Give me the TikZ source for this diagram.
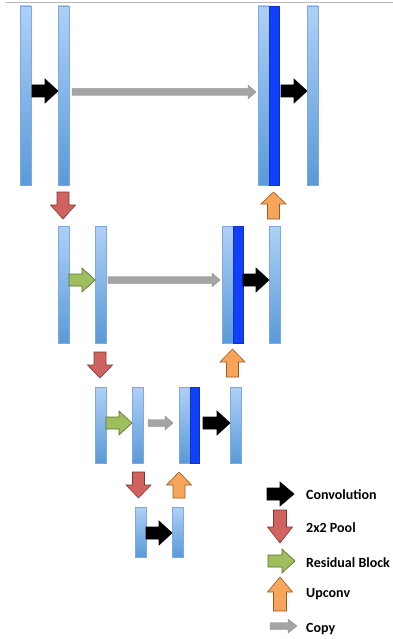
\documentclass[tikz,border=0pt]{standalone}
\usepackage{fontspec}
\setmainfont{Carlito}
\definecolor{bartop}{HTML}{AED0F7}
\definecolor{barbot}{HTML}{5A9AD8}
\definecolor{baredge}{HTML}{7AAADF}
\definecolor{darkbar}{HTML}{1040FA}
\definecolor{poolred}{HTML}{D0625F}
\definecolor{pooledge}{HTML}{7E3634}
\definecolor{resgreen}{HTML}{9FBF5E}
\definecolor{resedge}{HTML}{566E2C}
\definecolor{uporange}{HTML}{F8A55C}
\definecolor{upedge}{HTML}{9A5A24}
\definecolor{copygray}{HTML}{A4A4A4}
\newcommand{\rarr}[7]{\path[#1] (#2,#4-#5) -- (#3-#7,#4-#5) -- (#3-#7,#4-#6) -- (#3,#4) -- (#3-#7,#4+#6) -- (#3-#7,#4+#5) -- (#2,#4+#5) -- cycle;}
\newcommand{\varr}[7]{\path[#1] (#2-#6,#3) -- (#2-#6,#4) -- (#2-#7,#4) -- (#2,#5) -- (#2+#7,#4) -- (#2+#6,#4) -- (#2+#6,#3) -- cycle;}
\tikzset{
  bar/.style={rectangle, inner sep=0pt, outer sep=0pt, anchor=north west, top color=bartop, bottom color=barbot, draw=baredge, line width=0.5pt},
  dbar/.style={rectangle, inner sep=0pt, outer sep=0pt, anchor=north west, fill=darkbar, draw=darkbar!80!black, line width=0.5pt},
  conv/.style={fill=black, draw=black, line width=0.6pt, line join=miter},
  pool/.style={fill=poolred, draw=pooledge, line width=0.6pt},
  res/.style={fill=resgreen, draw=resedge, line width=0.6pt},
  upc/.style={fill=uporange, draw=upedge, line width=0.6pt},
  copyarr/.style={fill=copygray, draw=copygray!85!black, line width=0.4pt},
  legtext/.style={anchor=west, inner sep=0pt, font=\fontsize{14}{16}\selectfont\bfseries}
}
\begin{document}
\begin{tikzpicture}[x=1pt, y=-1pt]
\useasboundingbox (0,0) rectangle (393,639);
\draw[gray!55, line width=0.8pt] (5,2) -- (393,2);
% level 1
\node[bar, minimum width=11pt, minimum height=179pt] (a1) at (20,6) {};
\node[bar, minimum width=11pt, minimum height=179pt] (b1) at (58,6) {};
\node[bar, minimum width=11pt, minimum height=179pt] (c1) at (258,6) {};
\node[dbar, minimum width=10pt, minimum height=179pt] (d1) at (269,6) {};
\node[bar, minimum width=11pt, minimum height=179pt] (e1) at (307,6) {};
\rarr{conv}{32}{58}{91}{6}{12}{13}
\rarr{copyarr}{72}{256}{92}{3.5}{7}{8}
\rarr{conv}{281}{307}{91}{6}{12}{13}
\varr{pool}{63}{192}{205}{219}{6}{12.5}
\varr{upc}{273.5}{219}{204}{192}{6}{12.5}
% level 2
\node[bar, minimum width=11pt, minimum height=117pt] (a2) at (58,226) {};
\node[bar, minimum width=11pt, minimum height=117pt] (b2) at (95,226) {};
\node[bar, minimum width=11pt, minimum height=117pt] (c2) at (222,226) {};
\node[dbar, minimum width=10pt, minimum height=117pt] (d2) at (233,226) {};
\node[bar, minimum width=11pt, minimum height=117pt] (e2) at (269,226) {};
\rarr{res}{69}{95}{280}{6}{12}{13}
\rarr{copyarr}{108}{220}{280}{3.5}{7}{8}
\rarr{conv}{243}{269}{280}{6}{12}{13}
\varr{pool}{100}{352}{365}{378}{6}{12.5}
\varr{upc}{232.5}{377}{362}{349}{6}{12.5}
% level 3
\node[bar, minimum width=11pt, minimum height=76pt] (a3) at (95,387) {};
\node[bar, minimum width=11pt, minimum height=76pt] (b3) at (132,387) {};
\node[bar, minimum width=11pt, minimum height=76pt] (c3) at (179,387) {};
\node[dbar, minimum width=9pt, minimum height=76pt] (d3) at (190,387) {};
\node[bar, minimum width=11pt, minimum height=76pt] (e3) at (230,387) {};
\rarr{res}{106}{132}{423}{6}{12}{13}
\rarr{copyarr}{148}{173}{423}{3.5}{7}{8}
\rarr{conv}{203}{230}{423}{6}{12}{13}
\varr{pool}{138.5}{472}{485}{498}{6}{12.5}
\varr{upc}{179}{498}{485}{472}{6}{12.5}
% level 4
\node[bar, minimum width=11pt, minimum height=50pt] (a4) at (135,507) {};
\node[bar, minimum width=11pt, minimum height=50pt] (b4) at (172,507) {};
\rarr{conv}{146}{172}{533}{6}{12}{13}
% legend
\rarr{conv}{267}{294}{494}{6}{12}{14}
\node[legtext] (l1) at (306,495) {Convolution};
\varr{pool}{280}{510}{527}{543}{6.5}{12.5}
\node[legtext] (l2) at (306,528) {2x2 Pool};
\rarr{res}{268}{295}{561}{6}{12}{13}
\node[legtext] (l3) at (306,563) {Residual Block};
\varr{upc}{280}{611}{592}{577}{6.5}{12.5}
\node[legtext] (l4) at (306,594) {Upconv};
\rarr{copyarr}{270}{297}{626}{3.5}{7}{9}
\node[legtext] (l5) at (306,629) {Copy};
\end{tikzpicture}
\end{document}
